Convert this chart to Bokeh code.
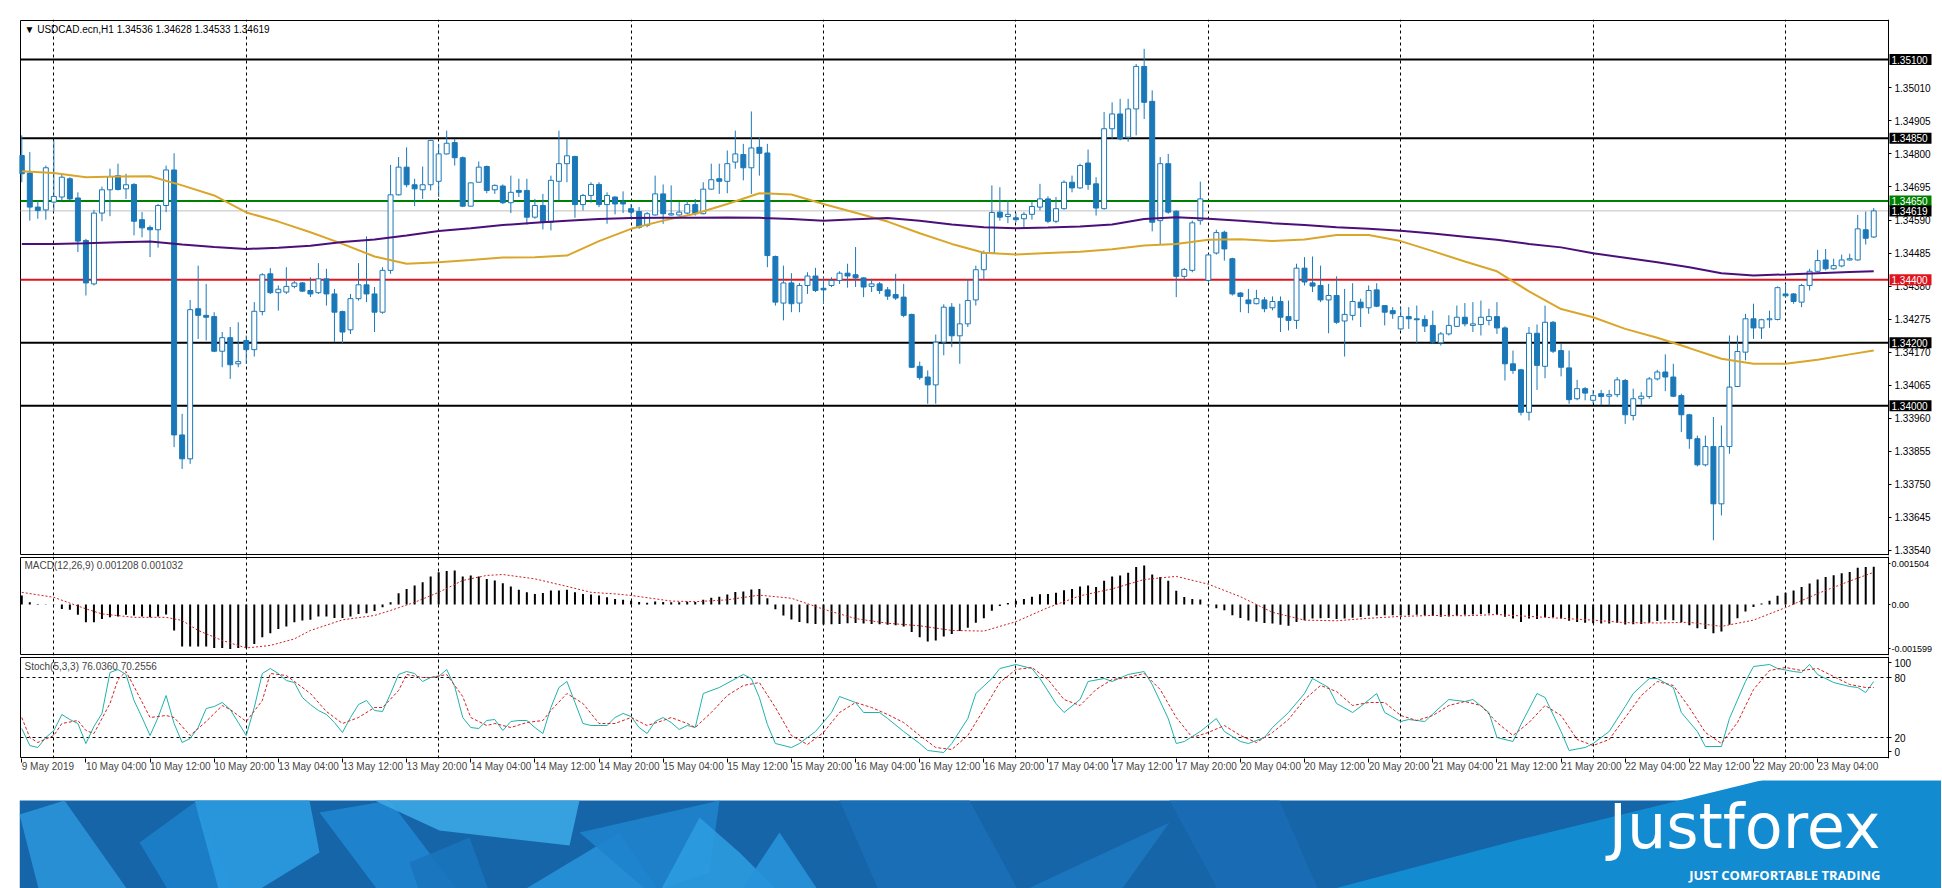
from bokeh.plotting import figure
from bokeh.models import Range1d, FixedTicker, Label, PrintfTickFormatter
from bokeh.layouts import column
from bokeh.embed import file_html
from bokeh.resources import INLINE
from bokeh.core.properties import value

# ---------------- data (USDCAD H1, 9 May 20:00 .. 23 May 11:00) ----------------
opens = [1.34795, 1.34739, 1.34631, 1.34622, 1.34647, 1.34663, 1.34721, 1.34660, 1.34525, 1.34387,
         1.34612, 1.34686, 1.34731, 1.34689, 1.34703, 1.34591, 1.34566, 1.34559, 1.34636, 1.34749,
         1.33907, 1.33831, 1.34308, 1.34287, 1.34283, 1.34173, 1.34216, 1.34133, 1.34207, 1.34178,
         1.34299, 1.34419, 1.34359, 1.34361, 1.34379, 1.34390, 1.34366, 1.34359, 1.34403, 1.34355,
         1.34299, 1.34241, 1.34340, 1.34384, 1.34355, 1.34297, 1.34430, 1.34670, 1.34758, 1.34702,
         1.34686, 1.34702, 1.34713, 1.34800, 1.34836, 1.34788, 1.34634, 1.34710, 1.34760, 1.34686,
         1.34698, 1.34645, 1.34684, 1.34684, 1.34599, 1.34636, 1.34583, 1.34713, 1.34769, 1.34792,
         1.34639, 1.34668, 1.34703, 1.34639, 1.34663, 1.34647, 1.34626, 1.34617, 1.34573, 1.34606,
         1.34673, 1.34606, 1.34606, 1.34612, 1.34639, 1.34610, 1.34688, 1.34721, 1.34713, 1.34774,
         1.34798, 1.34756, 1.34821, 1.34803, 1.34474, 1.34326, 1.34390, 1.34326, 1.34382, 1.34412,
         1.34373, 1.34382, 1.34398, 1.34421, 1.34416, 1.34406, 1.34379, 1.34387, 1.34368, 1.34353,
         1.34345, 1.34290, 1.34125, 1.34091, 1.34066, 1.34202, 1.34313, 1.34222, 1.34260, 1.34336,
         1.34432, 1.34485, 1.34615, 1.34601, 1.34597, 1.34594, 1.34608, 1.34631, 1.34657, 1.34586,
         1.34626, 1.34710, 1.34692, 1.34771, 1.34705, 1.34626, 1.34880, 1.34927, 1.34853, 1.34943,
         1.35078, 1.34967, 1.34588, 1.34769, 1.34618, 1.34411, 1.34430, 1.34588, 1.34398, 1.34485,
         1.34551, 1.34467, 1.34358, 1.34336, 1.34324, 1.34336, 1.34311, 1.34331, 1.34283, 1.34271,
         1.34437, 1.34390, 1.34382, 1.34336, 1.34350, 1.34269, 1.34287, 1.34329, 1.34311, 1.34368,
         1.34318, 1.34302, 1.34244, 1.34283, 1.34276, 1.34274, 1.34255, 1.34200, 1.34228, 1.34252,
         1.34281, 1.34255, 1.34258, 1.34271, 1.34283, 1.34247, 1.34133, 1.34114, 1.33979, 1.34230,
         1.34125, 1.34265, 1.34175, 1.34120, 1.34022, 1.34054, 1.34017, 1.34038, 1.34030, 1.34035,
         1.34080, 1.33969, 1.34022, 1.34029, 1.34085, 1.34107, 1.34091, 1.34032, 1.33971, 1.33895,
         1.33812, 1.33870, 1.33688, 1.33870, 1.34061, 1.34170, 1.34276, 1.34247, 1.34273, 1.34274,
         1.34355, 1.34355, 1.34329, 1.34382, 1.34427, 1.34463, 1.34435, 1.34444, 1.34463, 1.34463,
         1.34559, 1.34536]
highs = [1.34859, 1.34806, 1.34652, 1.34763, 1.34843, 1.34737, 1.34726, 1.34678, 1.34530, 1.34622,
         1.34696, 1.34753, 1.34769, 1.34737, 1.34707, 1.34615, 1.34573, 1.34641, 1.34763, 1.34802,
         1.33974, 1.34336, 1.34445, 1.34387, 1.34297, 1.34234, 1.34250, 1.34265, 1.34223, 1.34329,
         1.34421, 1.34437, 1.34382, 1.34440, 1.34396, 1.34393, 1.34408, 1.34453, 1.34435, 1.34371,
         1.34302, 1.34355, 1.34453, 1.34538, 1.34377, 1.34440, 1.34765, 1.34790, 1.34821, 1.34721,
         1.34760, 1.34845, 1.34832, 1.34874, 1.34848, 1.34792, 1.34710, 1.34776, 1.34763, 1.34703,
         1.34703, 1.34731, 1.34721, 1.34721, 1.34657, 1.34673, 1.34731, 1.34874, 1.34848, 1.34794,
         1.34673, 1.34710, 1.34710, 1.34678, 1.34665, 1.34681, 1.34641, 1.34631, 1.34615, 1.34731,
         1.34703, 1.34700, 1.34647, 1.34652, 1.34657, 1.34710, 1.34769, 1.34769, 1.34811, 1.34874,
         1.34832, 1.34935, 1.34853, 1.34832, 1.34477, 1.34445, 1.34421, 1.34390, 1.34424, 1.34438,
         1.34408, 1.34408, 1.34427, 1.34451, 1.34504, 1.34408, 1.34403, 1.34393, 1.34377, 1.34419,
         1.34387, 1.34292, 1.34140, 1.34112, 1.34226, 1.34322, 1.34326, 1.34324, 1.34403, 1.34445,
         1.34493, 1.34700, 1.34694, 1.34654, 1.34612, 1.34615, 1.34647, 1.34705, 1.34665, 1.34663,
         1.34716, 1.34731, 1.34769, 1.34814, 1.34726, 1.34933, 1.34964, 1.34975, 1.34975, 1.35086,
         1.35134, 1.35002, 1.34790, 1.34800, 1.34620, 1.34438, 1.34588, 1.34712, 1.34483, 1.34559,
         1.34556, 1.34470, 1.34361, 1.34371, 1.34368, 1.34345, 1.34347, 1.34347, 1.34334, 1.34451,
         1.34472, 1.34474, 1.34445, 1.34387, 1.34411, 1.34371, 1.34389, 1.34340, 1.34382, 1.34389,
         1.34318, 1.34313, 1.34313, 1.34313, 1.34318, 1.34287, 1.34302, 1.34234, 1.34287, 1.34318,
         1.34326, 1.34329, 1.34334, 1.34308, 1.34329, 1.34252, 1.34175, 1.34117, 1.34250, 1.34258,
         1.34318, 1.34269, 1.34197, 1.34175, 1.34082, 1.34059, 1.34050, 1.34050, 1.34050, 1.34091,
         1.34085, 1.34054, 1.34043, 1.34091, 1.34114, 1.34163, 1.34133, 1.34038, 1.33974, 1.33905,
         1.33905, 1.33964, 1.33937, 1.34223, 1.34223, 1.34292, 1.34324, 1.34276, 1.34302, 1.34379,
         1.34387, 1.34358, 1.34387, 1.34435, 1.34495, 1.34498, 1.34467, 1.34480, 1.34483, 1.34606,
         1.34617, 1.34628]
lows = [1.34710, 1.34588, 1.34594, 1.34591, 1.34620, 1.34652, 1.34652, 1.34488, 1.34350, 1.34382,
        1.34586, 1.34602, 1.34684, 1.34657, 1.34541, 1.34535, 1.34472, 1.34502, 1.34615, 1.33868,
        1.33799, 1.33815, 1.34212, 1.34207, 1.34170, 1.34122, 1.34085, 1.34122, 1.34133, 1.34156,
        1.34287, 1.34355, 1.34302, 1.34355, 1.34373, 1.34361, 1.34345, 1.34355, 1.34318, 1.34202,
        1.34199, 1.34228, 1.34334, 1.34329, 1.34234, 1.34292, 1.34419, 1.34668, 1.34694, 1.34634,
        1.34657, 1.34684, 1.34663, 1.34798, 1.34763, 1.34631, 1.34634, 1.34710, 1.34675, 1.34673,
        1.34641, 1.34612, 1.34663, 1.34575, 1.34594, 1.34560, 1.34557, 1.34652, 1.34710, 1.34597,
        1.34620, 1.34645, 1.34631, 1.34578, 1.34608, 1.34612, 1.34599, 1.34562, 1.34567, 1.34604,
        1.34578, 1.34604, 1.34604, 1.34608, 1.34604, 1.34608, 1.34686, 1.34673, 1.34675, 1.34753,
        1.34716, 1.34673, 1.34731, 1.34440, 1.34318, 1.34271, 1.34297, 1.34297, 1.34355, 1.34361,
        1.34324, 1.34377, 1.34387, 1.34375, 1.34377, 1.34345, 1.34361, 1.34355, 1.34336, 1.34336,
        1.34281, 1.34120, 1.34082, 1.34006, 1.34006, 1.34160, 1.34186, 1.34133, 1.34250, 1.34318,
        1.34400, 1.34483, 1.34588, 1.34580, 1.34583, 1.34565, 1.34591, 1.34620, 1.34580, 1.34580,
        1.34623, 1.34678, 1.34689, 1.34686, 1.34604, 1.34623, 1.34848, 1.34843, 1.34839, 1.34859,
        1.34911, 1.34554, 1.34512, 1.34610, 1.34345, 1.34400, 1.34424, 1.34575, 1.34393, 1.34480,
        1.34461, 1.34350, 1.34297, 1.34294, 1.34322, 1.34297, 1.34303, 1.34234, 1.34239, 1.34244,
        1.34382, 1.34361, 1.34329, 1.34230, 1.34260, 1.34156, 1.34271, 1.34250, 1.34292, 1.34313,
        1.34255, 1.34276, 1.34241, 1.34244, 1.34199, 1.34234, 1.34197, 1.34191, 1.34223, 1.34250,
        1.34252, 1.34234, 1.34223, 1.34255, 1.34228, 1.34080, 1.34101, 1.33969, 1.33953, 1.34050,
        1.34087, 1.34167, 1.34093, 1.34006, 1.34017, 1.34017, 1.34006, 1.34001, 1.34001, 1.34027,
        1.33942, 1.33953, 1.34001, 1.34022, 1.34080, 1.34046, 1.34027, 1.33916, 1.33863, 1.33807,
        1.33807, 1.33572, 1.33651, 1.33847, 1.34059, 1.34144, 1.34212, 1.34212, 1.34247, 1.34271,
        1.34345, 1.34324, 1.34313, 1.34366, 1.34424, 1.34430, 1.34432, 1.34440, 1.34461, 1.34461,
        1.34512, 1.34533]
closes = [1.34737, 1.34631, 1.34620, 1.34756, 1.34665, 1.34726, 1.34657, 1.34523, 1.34390, 1.34612,
          1.34686, 1.34728, 1.34687, 1.34702, 1.34586, 1.34565, 1.34559, 1.34636, 1.34749, 1.33907,
          1.33831, 1.34305, 1.34287, 1.34281, 1.34173, 1.34216, 1.34130, 1.34140, 1.34178, 1.34300,
          1.34416, 1.34359, 1.34370, 1.34379, 1.34390, 1.34364, 1.34355, 1.34403, 1.34355, 1.34297,
          1.34234, 1.34340, 1.34384, 1.34355, 1.34297, 1.34430, 1.34670, 1.34758, 1.34702, 1.34689,
          1.34702, 1.34843, 1.34800, 1.34834, 1.34788, 1.34634, 1.34708, 1.34758, 1.34684, 1.34700,
          1.34645, 1.34678, 1.34678, 1.34599, 1.34636, 1.34583, 1.34716, 1.34769, 1.34794, 1.34639,
          1.34668, 1.34703, 1.34639, 1.34668, 1.34641, 1.34641, 1.34615, 1.34567, 1.34610, 1.34673,
          1.34610, 1.34610, 1.34615, 1.34639, 1.34610, 1.34688, 1.34718, 1.34713, 1.34769, 1.34800,
          1.34756, 1.34819, 1.34802, 1.34477, 1.34329, 1.34390, 1.34324, 1.34382, 1.34412, 1.34366,
          1.34368, 1.34398, 1.34421, 1.34412, 1.34406, 1.34377, 1.34387, 1.34366, 1.34348, 1.34342,
          1.34287, 1.34122, 1.34089, 1.34066, 1.34202, 1.34313, 1.34222, 1.34260, 1.34334, 1.34432,
          1.34485, 1.34614, 1.34599, 1.34608, 1.34591, 1.34608, 1.34633, 1.34657, 1.34586, 1.34626,
          1.34710, 1.34692, 1.34763, 1.34703, 1.34628, 1.34880, 1.34927, 1.34848, 1.34943, 1.35078,
          1.34964, 1.34583, 1.34769, 1.34615, 1.34411, 1.34433, 1.34581, 1.34657, 1.34479, 1.34550,
          1.34498, 1.34355, 1.34347, 1.34324, 1.34340, 1.34308, 1.34331, 1.34281, 1.34271, 1.34437,
          1.34393, 1.34380, 1.34336, 1.34350, 1.34265, 1.34290, 1.34331, 1.34311, 1.34366, 1.34316,
          1.34297, 1.34292, 1.34283, 1.34276, 1.34273, 1.34253, 1.34202, 1.34228, 1.34255, 1.34281,
          1.34260, 1.34260, 1.34281, 1.34283, 1.34247, 1.34133, 1.34112, 1.33979, 1.34230, 1.34128,
          1.34265, 1.34173, 1.34122, 1.34019, 1.34054, 1.34040, 1.34032, 1.34029, 1.34035, 1.34082,
          1.33971, 1.34022, 1.34030, 1.34085, 1.34107, 1.34091, 1.34030, 1.33971, 1.33895, 1.33812,
          1.33870, 1.33688, 1.33870, 1.34059, 1.34172, 1.34276, 1.34247, 1.34273, 1.34276, 1.34375,
          1.34349, 1.34331, 1.34382, 1.34427, 1.34461, 1.34435, 1.34445, 1.34463, 1.34467, 1.34562,
          1.34532, 1.34619]

# moving averages, read every 4 bars
ma_x = [0, 4, 8, 12, 16, 20, 24, 28, 32, 36, 40, 44, 48, 52, 56, 60, 64, 68, 72, 76,
        80, 84, 88, 92, 96, 100, 104, 108, 112, 116, 120, 124, 128, 132, 136, 140, 144, 148, 152, 156,
        160, 164, 168, 172, 176, 180, 184, 188, 192, 196, 200, 204, 208, 212, 216, 220, 224, 228, 231]
ma_fast = [1.34745, 1.34739, 1.34726, 1.34728, 1.34729, 1.34700, 1.34668, 1.34614, 1.34585, 1.34551,
           1.34514, 1.34474, 1.34451, 1.34456, 1.34463, 1.34471, 1.34472, 1.34477, 1.34523, 1.34562,
           1.34588, 1.34610, 1.34641, 1.34675, 1.34671, 1.34641, 1.34613, 1.34585, 1.34548, 1.34514,
           1.34486, 1.34480, 1.34485, 1.34489, 1.34497, 1.34509, 1.34514, 1.34527, 1.34529, 1.34523,
           1.34528, 1.34542, 1.34542, 1.34523, 1.34491, 1.34458, 1.34427, 1.34363, 1.34307, 1.34281,
           1.34244, 1.34216, 1.34183, 1.34149, 1.34133, 1.34133, 1.34146, 1.34163, 1.34175]
ma_slow = [1.34514, 1.34514, 1.34516, 1.34519, 1.34522, 1.34512, 1.34504, 1.34498, 1.34502, 1.34508,
           1.34520, 1.34528, 1.34541, 1.34555, 1.34564, 1.34574, 1.34581, 1.34588, 1.34593, 1.34596,
           1.34597, 1.34597, 1.34598, 1.34597, 1.34593, 1.34588, 1.34592, 1.34596, 1.34588, 1.34576,
           1.34567, 1.34564, 1.34566, 1.34569, 1.34576, 1.34593, 1.34599, 1.34594, 1.34588, 1.34580,
           1.34574, 1.34567, 1.34562, 1.34556, 1.34547, 1.34537, 1.34527, 1.34514, 1.34503, 1.34484,
           1.34470, 1.34456, 1.34440, 1.34421, 1.34414, 1.34417, 1.34421, 1.34425, 1.34427]

level_values = [1.35100, 1.34850, 1.34650, 1.34400, 1.34200, 1.34000]
level_colors = ["black", "black", "#008000", "#e0141e", "black", "black"]
bid_price = 1.34619
price_ticks = [1.33540, 1.33645, 1.33750, 1.33855, 1.33960, 1.34065, 1.34170, 1.34275,
               1.34380, 1.34485, 1.34590, 1.34695, 1.34800, 1.34905, 1.35010]

# MACD histogram (units of 1e-4), one per bar
macd_hist_e4 = [2.9, 0.7, 0.2, 0.1, 0.1, -1.4, -1.7, -3.3, -5.7, -5.7,
                -4.6, -4.1, -3.8, -3.3, -3.5, -3.8, -4.1, -3.8, -3.2, -8.3,
                -13.4, -13.4, -13.4, -13.4, -13.9, -13.9, -14.2, -13.9, -13.9, -12.6,
                -10.5, -9.2, -7.8, -7.0, -5.7, -5.1, -4.9, -3.8, -3.8, -4.3,
                -4.3, -3.8, -3.0, -2.8, -2.1, -0.9, 0.7, 3.6, 5.0, 6.1,
                7.1, 9.0, 10.3, 10.7, 10.9, 9.0, 9.3, 9.0, 8.2, 7.7,
                6.8, 5.8, 4.7, 3.9, 3.4, 3.7, 4.5, 4.5, 4.7, 3.9,
                3.4, 3.2, 2.9, 2.3, 1.8, 1.5, 1.2, 0.8, 0.6, 1.0,
                0.8, 0.7, 0.7, 0.9, 0.8, 1.5, 2.2, 2.5, 3.2, 4.0,
                4.2, 4.8, 5.0, 2.0, -1.5, -3.5, -4.8, -5.6, -6.0, -6.2,
                -6.4, -6.3, -6.2, -6.0, -5.9, -6.1, -6.2, -6.3, -6.5, -6.6,
                -7.0, -8.8, -10.5, -11.8, -11.5, -10.2, -9.4, -8.5, -7.4, -5.8,
                -4.4, -2.0, -0.5, 0.5, 1.2, 1.8, 2.5, 3.3, 3.4, 3.8,
                4.6, 5.0, 5.8, 6.1, 5.6, 7.6, 9.0, 9.3, 10.2, 12.0,
                12.5, 9.6, 8.8, 7.6, 4.4, 2.4, 1.8, 1.6, -0.3, -1.2,
                -1.8, -3.4, -4.3, -5.1, -5.5, -5.9, -6.1, -6.5, -6.8, -5.6,
                -5.0, -4.5, -4.4, -4.3, -4.6, -4.5, -4.2, -4.0, -3.6, -3.5,
                -3.4, -3.4, -3.5, -3.4, -3.3, -3.4, -3.7, -3.9, -3.8, -3.5,
                -3.3, -3.2, -3.0, -2.9, -3.0, -3.9, -4.5, -5.6, -4.5, -4.6,
                -4.0, -4.1, -4.4, -5.2, -5.6, -5.8, -6.0, -6.1, -6.1, -5.8,
                -6.4, -6.3, -6.2, -5.8, -5.3, -4.9, -5.0, -5.6, -6.6, -7.6,
                -7.8, -9.2, -8.6, -6.5, -4.4, -2.2, -0.8, 0.3, 1.2, 2.8,
                3.8, 4.5, 5.6, 6.7, 8.0, 8.8, 9.4, 10.0, 10.4, 11.8,
                12.0, 12.1]
macd_sig_x = [0, 4, 8, 10, 14, 18, 20, 22, 25, 28, 31, 34, 36, 40, 44, 46, 49, 52, 55, 58,
              60, 64, 68, 71, 74, 76, 81, 84, 88, 92, 96, 100, 104, 108, 112, 116, 120, 124, 128, 132,
              136, 140, 144, 148, 152, 156, 160, 164, 168, 172, 176, 180, 184, 188, 192, 196, 200, 204, 208, 212,
              216, 220, 224, 228, 231]
macd_sig_e4 = [3.9, 2.3, -1.4, -3.0, -4.1, -4.1, -5.1, -8.3, -11.5, -13.9,
               -13.1, -11.0, -8.3, -4.9, -3.5, -1.9, 0.7, 3.9, 7.7, 9.3,
               9.6, 8.2, 5.8, 3.9, 3.4, 2.9, 1.1, 0.9, 1.5, 3.0,
               2.0, -1.5, -4.5, -6.0, -6.8, -8.3, -8.5, -5.5, -1.0, 2.8,
               5.0, 8.0, 9.0, 6.5, 2.5, -2.5, -5.0, -5.2, -4.4, -3.8,
               -3.5, -3.6, -3.2, -3.8, -4.4, -5.0, -5.8, -5.9, -5.7, -7.0,
               -5.0, -1.0, 3.5, 7.5, 10.3]

# Stochastic %K: one per bar for the first 85 bars, then read at sample bars
stoch_k_first = [29, 12, 10, 20, 27, 43, 38, 34, 14, 31, 44, 85, 88, 83, 57, 40, 22, 40, 62, 34,
                 15, 19, 30, 49, 51, 55, 48, 35, 22, 50, 84, 89, 84, 77, 75, 60, 53, 47, 43, 35,
                 25, 40, 53, 57, 47, 46, 64, 83, 86, 84, 76, 80, 81, 88, 71, 40, 30, 29, 37, 38,
                 27, 36, 37, 37, 30, 24, 50, 70, 76, 55, 34, 32, 32, 32, 40, 44, 41, 30, 24, 36,
                 40, 35, 28, 32, 30]
stoch_k_late_x = [85, 87, 90, 91, 92, 93, 94, 96, 97, 99, 101, 102, 104, 105, 107, 108, 110, 112, 113, 115,
                  116, 118, 119, 121, 122, 124, 126, 127, 129, 130, 132, 133, 135, 136, 138, 140, 141, 143, 144, 145,
                  147, 149, 150, 152, 153, 155, 156, 158, 160, 161, 163, 164, 166, 167, 169, 170, 172, 173, 175, 177,
                  178, 180, 181, 183, 184, 186, 187, 189, 190, 192, 193, 195, 196, 198, 200, 201, 203, 204, 206, 207,
                  209, 210, 212, 213, 215, 216, 218, 219, 221, 222, 223, 224, 226, 228, 229, 230, 231]
stoch_k_late = [64, 70, 83, 79, 60, 33, 14, 10, 14, 26, 45, 61, 55, 45, 45, 39, 26, 14, 7, 5,
                14, 39, 64, 79, 89, 93, 89, 79, 54, 45, 58, 76, 79, 76, 83, 86, 73, 39, 14, 16,
                26, 39, 26, 16, 14, 20, 30, 45, 64, 79, 70, 54, 45, 51, 64, 45, 36, 38, 36, 51,
                58, 56, 58, 45, 20, 16, 33, 64, 60, 26, 7, 10, 14, 26, 51, 64, 79, 79, 70, 45,
                26, 11, 11, 39, 76, 91, 93, 89, 86, 85, 93, 83, 75, 71, 70, 65, 76]
stoch_d_x = [0, 1, 2, 4, 5, 7, 8, 9, 11, 12, 13, 14, 16, 18, 19, 21, 23, 25, 26, 28,
             30, 31, 33, 36, 38, 40, 42, 44, 45, 47, 48, 50, 51, 53, 55, 56, 58, 59, 61, 63,
             65, 66, 68, 70, 72, 74, 76, 78, 80, 81, 83, 84, 86, 88, 90, 92, 94, 96, 98, 100,
             102, 104, 106, 108, 110, 112, 114, 116, 118, 120, 122, 124, 126, 128, 130, 132, 134, 136, 138, 140,
             142, 144, 146, 148, 150, 152, 154, 156, 158, 160, 162, 164, 166, 168, 170, 172, 174, 176, 178, 180,
             182, 184, 186, 188, 190, 192, 194, 196, 198, 200, 202, 204, 206, 208, 210, 212, 214, 216, 218, 220,
             222, 224, 226, 228, 230, 231]
stoch_d = [40, 20, 15, 22, 34, 37, 27, 24, 54, 78, 86, 71, 40, 42, 40, 22, 36, 52, 48, 36,
           57, 84, 82, 64, 46, 34, 40, 50, 50, 67, 83, 80, 80, 83, 61, 40, 32, 34, 30, 35,
           37, 47, 64, 54, 34, 34, 40, 32, 37, 40, 34, 30, 45, 62, 72, 75, 50, 22, 13, 25,
           45, 55, 50, 43, 35, 22, 10, 8, 22, 48, 75, 88, 90, 78, 58, 52, 68, 78, 80, 84,
           68, 40, 20, 25, 32, 22, 15, 25, 38, 58, 72, 66, 52, 55, 55, 42, 37, 42, 52, 56,
           52, 35, 22, 35, 52, 42, 18, 12, 18, 40, 62, 76, 72, 50, 25, 14, 35, 68, 87, 90,
           87, 89, 81, 73, 70, 70]
stoch_levels = [80, 20]

x_labels = ["9 May 2019", "10 May 04:00", "10 May 12:00", "10 May 20:00", "13 May 04:00",
            "13 May 12:00", "13 May 20:00", "14 May 04:00", "14 May 12:00", "14 May 20:00",
            "15 May 04:00", "15 May 12:00", "15 May 20:00", "16 May 04:00", "16 May 12:00",
            "16 May 20:00", "17 May 04:00", "17 May 12:00", "17 May 20:00", "20 May 04:00",
            "20 May 12:00", "20 May 20:00", "21 May 04:00", "21 May 12:00", "21 May 20:00",
            "22 May 04:00", "22 May 12:00", "22 May 20:00", "23 May 04:00"]
label_step = 8
day_start_bars = [4, 28, 52, 76, 100, 124, 148, 172, 196, 220]

header_main = "\u25bc USDCAD.ecn,H1  1.34536 1.34628 1.34533 1.34619"
header_macd = "MACD(12,26,9) 0.001208 0.001032"
header_stoch = "Stoch(5,3,3) 76.0360 70.2556"
macd_top, macd_bottom = 0.001504, -0.001599

# ---------------- layout constants ----------------
FONT = "Liberation Sans"
BLUE = "#1a78b8"
PXB = 8.017                       # pixels per bar
bar_start, chart_end = -0.16, 232.84
XR = Range1d(bar_start - 1.0 / PXB, chart_end + 44.0 / PXB)
FRAME_W = 1913
N = len(opens)
idx = list(range(N))


def make_fig(frame_h, y0, y1, top, bottom, xaxis=None):
    px = (y1 - y0) / (frame_h - 2)
    p = figure(frame_width=FRAME_W, frame_height=frame_h, x_range=XR, y_range=Range1d(y0 - px, y1 + px),
               output_backend="svg", toolbar_location=None,
               x_axis_location=xaxis, y_axis_location="right",
               min_border_left=19, min_border_right=9, min_border_top=top, min_border_bottom=bottom)
    p.outline_line_color = None
    p.background_fill_color = "white"
    p.border_fill_color = "white"
    for g in p.xgrid:
        g.ticker = FixedTicker(ticks=day_start_bars)
        g.grid_line_color = "black"
        g.grid_line_dash = "3 3"
        g.grid_line_width = 1
    p.ygrid.visible = False
    p.quad(left=[bar_start], right=[chart_end], bottom=[y0], top=[y1],
           fill_color=None, line_color="black", line_width=1)
    ya = p.yaxis[0]
    ya.fixed_location = chart_end
    ya.axis_line_color = "black"
    ya.major_tick_out = 3
    ya.major_tick_in = 0
    ya.minor_tick_out = 0
    ya.minor_tick_in = 0
    ya.major_label_standoff = 3
    ya.major_label_text_font = FONT
    ya.major_label_text_font_size = "10px"
    ya.major_label_text_color = "black"
    return p, px


def hline(p, v, color, width, dash="solid"):
    p.segment(x0=[bar_start], x1=[chart_end], y0=[v], y1=[v], line_color=color,
              line_width=width, line_dash=dash)


# ---------------- main price panel ----------------
y_lo, y_hi = 1.33527, 1.35224
p1, px_price = make_fig(536, y_lo, y_hi, 19, 1)
p1.yaxis.ticker = FixedTicker(ticks=price_ticks)
p1.yaxis.formatter = PrintfTickFormatter(format="%.5f")

hline(p1, bid_price, "#c0c0c0", 1)
for v, c in zip(level_values, level_colors):
    hline(p1, v, c, 2)

p1.segment(x0=idx, y0=lows, x1=idx, y1=highs, line_color=BLUE, line_width=1)
bull = [i for i in idx if closes[i] >= opens[i]]
bear = [i for i in idx if closes[i] < opens[i]]
p1.vbar(x=bull, width=0.62, top=[closes[i] for i in bull], bottom=[opens[i] for i in bull],
        fill_color="white", line_color=BLUE, line_width=1)
p1.vbar(x=bear, width=0.62, top=[opens[i] for i in bear], bottom=[closes[i] for i in bear],
        fill_color=BLUE, line_color=BLUE, line_width=1)

p1.line(ma_x, ma_fast, line_color="#d9a62a", line_width=2)
p1.line(ma_x, ma_slow, line_color="#4b0f7a", line_width=2)

p1.add_layout(Label(x=bar_start, y=y_hi - 9 * px_price, x_offset=4, text=header_main,
                    text_font=FONT, text_font_size="10px", text_baseline="middle", text_color="black"))

# price boxes on the scale
box_values = level_values + [bid_price]
box_colors = level_colors + ["black"]
nb = len(box_values)
p1.quad(left=[chart_end + 1.0 / PXB] * nb, right=[chart_end + 43.0 / PXB] * nb,
        bottom=[v - 5.5 * px_price for v in box_values], top=[v + 5.5 * px_price for v in box_values],
        fill_color=box_colors, line_color=None, level="overlay")
p1.text(x=[chart_end] * nb, y=box_values, text=["%.5f" % v for v in box_values], x_offset=3,
        text_color="white", text_font=value(FONT), text_font_size="10px",
        text_baseline="middle", text_align="left", level="overlay")

# ---------------- MACD panel ----------------
p2, px_macd = make_fig(99, macd_bottom, macd_top, 0, 1)
macd_tick_top = macd_top - 6 * px_macd
macd_tick_bot = macd_bottom + 6 * px_macd
p2.yaxis.ticker = FixedTicker(ticks=[macd_tick_top, 0, macd_tick_bot])
p2.yaxis.major_label_overrides = {macd_tick_top: "%.6f" % macd_top, 0: "0.00",
                                  macd_tick_bot: "%.6f" % macd_bottom}
p2.yaxis.major_label_text_font_size = "9px"
p2.yaxis.major_label_standoff = 1
p2.yaxis.major_tick_out = 2
macd_hist = [v * 1e-4 for v in macd_hist_e4]
macd_sig = [v * 1e-4 for v in macd_sig_e4]
p2.vbar(x=idx, width=0.25, top=macd_hist, bottom=0, fill_color="black", line_color=None)
p2.line(macd_sig_x, macd_sig, line_color="#cc1f1f", line_width=1, line_dash="2 2")
p2.add_layout(Label(x=bar_start, y=macd_top - 8 * px_macd, x_offset=4, text=header_macd,
                    text_font=FONT, text_font_size="10px", text_baseline="middle"))

# ---------------- Stochastic panel ----------------
p3, px_st = make_fig(102, 0, 100, 0, 20, xaxis="below")
p3.yaxis.ticker = FixedTicker(ticks=[95, 80, 20, 6])
p3.yaxis.major_label_overrides = {95: "100", 80: "80", 20: "20", 6: "0"}
for lv in stoch_levels:
    hline(p3, lv, "black", 1, "3 3")
k_x = list(range(len(stoch_k_first))) + stoch_k_late_x
k_v = stoch_k_first + stoch_k_late
p3.line(k_x, k_v, line_color="#20b2aa", line_width=1)
p3.line(stoch_d_x, stoch_d, line_color="#d42020", line_width=1, line_dash="3 2")
p3.add_layout(Label(x=bar_start, y=91, x_offset=4, text=header_stoch,
                    text_font=FONT, text_font_size="10px", text_baseline="middle"))

xa = p3.xaxis[0]
xticks = [k * label_step for k in range(len(x_labels))]
xa.ticker = FixedTicker(ticks=xticks)
xa.major_label_overrides = {t: s for t, s in zip(xticks, x_labels)}
xa.major_label_orientation = -0.0001
xa.bounds = (bar_start, chart_end)
xa.major_tick_out = 4
xa.major_tick_in = 0
xa.minor_tick_out = 0
xa.minor_tick_in = 0
xa.major_label_standoff = 4
xa.axis_line_color = None
xa.major_label_text_font = FONT
xa.major_label_text_font_size = "10px"

# ---------------- banner ----------------
pb = figure(frame_width=1941, frame_height=108, x_range=Range1d(0, 1941), y_range=Range1d(886, 778),
            output_backend="svg", toolbar_location=None, x_axis_location=None, y_axis_location=None,
            min_border=0)
pb.outline_line_color = None
pb.grid.visible = False
pb.background_fill_color = "white"
pb.border_fill_color = "white"
banner_base = ([0, 1942, 1942, 0], [798, 798, 890, 890], "#1565a8")
banner_shards = [
    ([0, 45, 110, 20], [812, 798, 890, 890], "#2a93d9"),
    ([120, 175, 215, 150], [840, 800, 890, 890], "#1c7fc8"),
    ([175, 290, 300, 235, 200], [798, 798, 850, 890, 890], "#2b9ae0"),
    ([300, 370, 440, 360], [810, 798, 890, 890], "#1f86cf"),
    ([355, 560, 550, 420], [798, 798, 843, 828], "#3ba7e6"),
    ([390, 450, 470, 400], [860, 835, 890, 890], "#1a74bd"),
    ([500, 600, 640, 560], [890, 830, 890, 890], "#2791d8"),
    ([560, 700, 690, 630], [830, 798, 870, 890], "#1e83cc"),
    ([640, 680, 720, 760, 700], [890, 815, 850, 890, 890], "#2c9bdf"),
    ([720, 760, 800, 780], [890, 830, 890, 890], "#2792d9"),
    ([820, 950, 1000, 860], [798, 798, 890, 890], "#1a6fb6"),
    ([1000, 1150, 1100], [890, 820, 890], "#1d78c0"),
    ([1150, 1260, 1300, 1200], [798, 798, 890, 890], "#1a6db4"),
]
banner_light = ([1300, 1500, 1733, 1942, 1942], [890, 837, 780, 729, 890], "#138bd0")
pb.patch(banner_base[0], banner_base[1], fill_color=banner_base[2], line_color=None)
for xs, ys, c in banner_shards:
    pb.patch(xs, ys, fill_color=c, line_color=None, fill_alpha=0.9)
pb.patch(banner_light[0], banner_light[1], fill_color=banner_light[2], line_color=None)
pb.text(x=[1861], y=[824], text=["Justforex"], text_color="white", text_font=value("DejaVu Sans"),
        text_font_size="62px", text_align="right", text_baseline="middle")
pb.text(x=[1861], y=[872], text=["JUST COMFORTABLE TRADING"], text_color="white",
        text_font=value("Open Sans"), text_font_style="bold", text_font_size="13px",
        text_align="right", text_baseline="middle")

layout = column(p1, p2, p3, pb, spacing=0)
open("out.html", "w").write(file_html(layout, INLINE, title="USDCAD H1"))
